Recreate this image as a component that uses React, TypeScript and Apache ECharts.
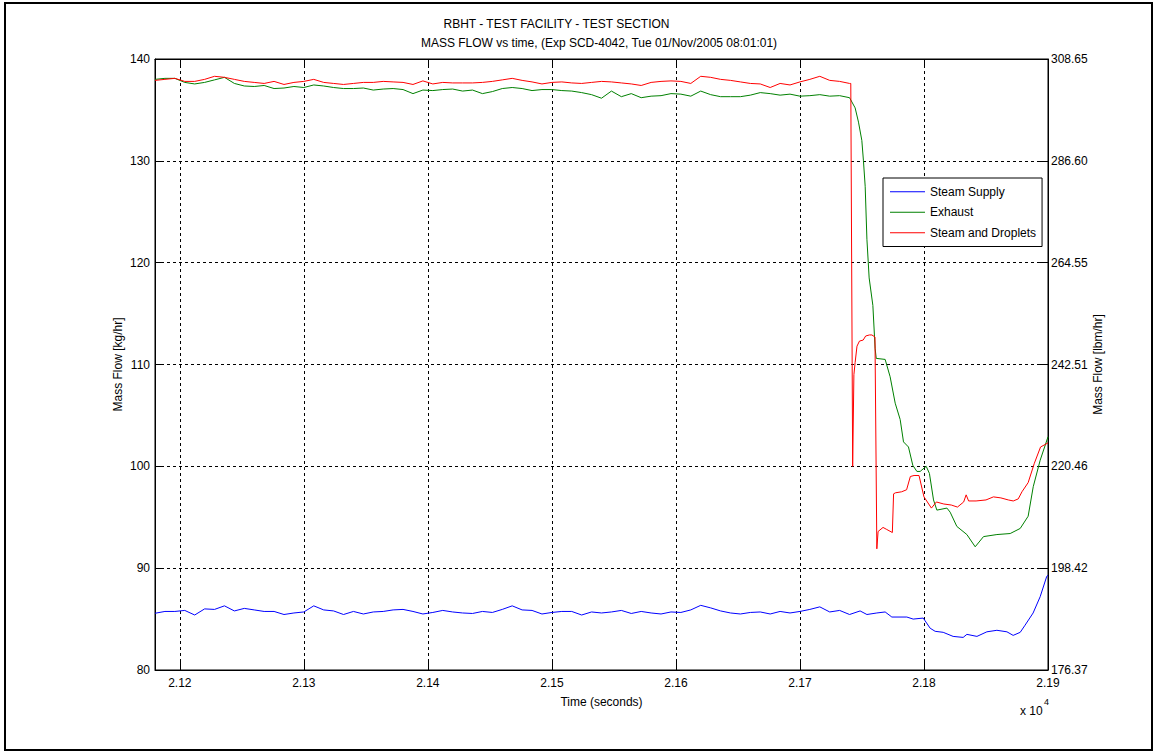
import React, { useEffect, useRef } from "react";
import * as echarts from "echarts";

const FONT = "'Liberation Sans', Arial, sans-serif";
const FONT_SIZE = 12;
const KG_TO_LBM = 2.20462;

const TITLE_LINE_1 = "RBHT - TEST FACILITY - TEST SECTION";
const TITLE_LINE_2 = "MASS FLOW vs time, (Exp SCD-4042, Tue 01/Nov/2005 08:01:01)";
const SERIES_NAMES = ["Steam Supply", "Exhaust", "Steam and Droplets"];
const SERIES_COLORS = ["#0000ff", "#008000", "#ff0000"];

// steady-state part of the record, seconds
const baseTime = [
  21180, 21188, 21196, 21204, 21212, 21220, 21228, 21236, 21244, 21252,
  21260, 21268, 21276, 21284, 21292, 21300, 21308, 21316, 21324, 21332,
  21340, 21348, 21356, 21364, 21372, 21380, 21388, 21396, 21404, 21412,
  21420, 21428, 21436, 21444, 21452, 21460, 21468, 21476, 21484, 21492,
  21500, 21508, 21516, 21524, 21532, 21540, 21548, 21556, 21564, 21572,
  21580, 21588, 21596, 21604, 21612, 21620, 21628, 21636, 21644, 21652,
  21660, 21668, 21676, 21684, 21692, 21700, 21708, 21716, 21724, 21732,
  21740,
];

// kg/hr
const supplyBase = [
  85.57, 85.75, 85.75, 85.85, 85.4, 86.0, 85.95, 86.3, 85.8, 86.05,
  85.9, 85.75, 85.75, 85.45, 85.6, 85.7, 86.3, 85.9, 85.8, 85.45,
  85.75, 85.5, 85.7, 85.75, 85.9, 85.95, 85.75, 85.5, 85.65, 85.85,
  85.7, 85.6, 85.55, 85.75, 85.65, 85.95, 86.3, 85.9, 85.85, 85.5,
  85.65, 85.75, 85.75, 85.4, 85.7, 85.6, 85.7, 85.85, 85.55, 85.75,
  85.6, 85.5, 85.7, 85.65, 85.9, 86.35, 86.1, 85.8, 85.6, 85.5,
  85.65, 85.7, 85.5, 85.75, 85.6, 85.75, 85.95, 86.2, 85.7, 85.85,
  85.45,
];

const exhaustBase = [
  138.0, 138.1, 138.1, 137.7, 137.55, 137.7, 137.95, 138.2, 137.6, 137.35,
  137.3, 137.4, 137.1, 137.15, 137.3, 137.2, 137.45, 137.35, 137.2, 137.1,
  137.1, 137.15, 136.95, 137.05, 137.1, 137.0, 136.6, 136.95, 136.9, 137.0,
  137.05, 136.85, 136.95, 136.6, 136.8, 137.1, 137.2, 137.1, 136.9, 137.0,
  137.0, 136.9, 136.85, 136.7, 136.5, 136.15, 136.85, 136.3, 136.6, 136.2,
  136.35, 136.4, 136.6, 136.55, 136.35, 136.85, 136.5, 136.3, 136.3, 136.3,
  136.45, 136.7, 136.6, 136.45, 136.55, 136.35, 136.4, 136.5, 136.35, 136.4,
  136.2,
];

const dropletsBase = [
  137.9, 138.0, 138.1, 137.8, 137.8, 138.0, 138.3, 138.2, 138.0, 137.8,
  137.7, 137.6, 137.8, 137.5, 137.7, 137.8, 138.0, 137.7, 137.6, 137.5,
  137.6, 137.7, 137.7, 137.8, 137.75, 137.7, 137.5, 137.85, 137.55, 137.7,
  137.65, 137.65, 137.65, 137.7, 137.8, 137.95, 138.1, 137.9, 137.75, 137.55,
  137.7, 137.75, 137.65, 137.6, 137.7, 137.8, 137.75, 137.65, 137.55, 137.4,
  137.7, 137.8, 137.85, 137.8, 137.6, 138.3, 138.2, 138.0, 137.9, 137.75,
  137.6, 137.55, 137.2, 137.6, 137.45, 137.75, 138.0, 138.3, 137.9, 137.8,
  137.6,
];

// transient after the steady state
const supplyTailTime = [
  21748.5, 21754, 21762, 21768.7, 21774.1, 21786.2, 21791.3, 21799.4, 21805, 21809,
  21815.5, 21823.5, 21831.6, 21834.6, 21842.7, 21850.7, 21858.8, 21866.9, 21871.9, 21877.6,
  21881.5, 21888, 21893.7, 21899, 21900,
];
const supplyTail = [
  85.8, 85.45, 85.6, 85.7, 85.2, 85.2, 85.0, 85.1, 84.1, 83.8,
  83.7, 83.3, 83.2, 83.5, 83.3, 83.75, 83.9, 83.75, 83.4, 83.7,
  84.4, 85.6, 87.2, 89.2, 89.3,
];

const exhaustTailTime = [
  21744.5, 21747.2, 21749.9, 21751.2, 21752.6, 21754, 21755.8, 21758.8, 21760.6, 21761.5,
  21768.7, 21772.7, 21776.8, 21780.8, 21783.5, 21787.5, 21791, 21794.3, 21796.9, 21801.8,
  21804.4, 21807.7, 21810.4, 21818.5, 21821.1, 21826.5, 21834.6, 21841.3, 21848, 21858.8,
  21869.5, 21877.6, 21884, 21888.1, 21893.7, 21900,
];
const exhaustTail = [
  135.2, 133.8, 132.0, 130.0, 127.5, 122.3, 118.5, 115.8, 111.6, 110.6,
  110.5, 108.8, 106.2, 104.6, 102.4, 101.9, 100.1, 99.5, 99.5, 100.0,
  99.3, 96.7, 95.7, 95.9, 95.5, 94.1, 93.3, 92.1, 93.1, 93.3,
  93.4, 93.9, 95.1, 98.0, 100.6, 102.9,
];

const dropletsTailTime = [
  21741, 21742.5, 21743.5, 21744.5, 21746, 21748, 21751, 21753, 21756, 21758,
  21760.5, 21762, 21763, 21767, 21770, 21774.5, 21775.5, 21777, 21782, 21786,
  21789, 21792, 21796, 21800, 21806, 21810, 21816, 21822, 21827, 21832,
  21834, 21836, 21842, 21850, 21856, 21862, 21868, 21872, 21876, 21879,
  21884, 21889, 21894, 21900,
];
const dropletsTail = [
  137.6, 100.0, 109.0, 110.2, 111.8, 112.3, 112.4, 112.8, 112.9, 112.9,
  112.7, 91.9, 93.6, 94.0, 93.8, 93.5, 97.3, 97.4, 97.5, 97.7,
  99.0, 99.1, 99.1, 97.0, 95.9, 96.5, 96.3, 96.2, 96.0, 96.5,
  97.2, 96.6, 96.6, 96.7, 97.0, 96.9, 96.7, 96.6, 96.8, 97.5,
  98.4, 100.3, 101.9, 102.3,
];

const pairs = (t: number[], v: number[]) => t.map((x, i) => [x, v[i]]);

const seriesData = [
  pairs(baseTime, supplyBase).concat(pairs(supplyTailTime, supplyTail)),
  pairs(baseTime, exhaustBase).concat(pairs(exhaustTailTime, exhaustTail)),
  pairs(baseTime, dropletsBase).concat(pairs(dropletsTailTime, dropletsTail)),
];

const labelStyle = { fontFamily: FONT, fontSize: FONT_SIZE, color: "#000" };

export default function App() {
  const ref = useRef<HTMLDivElement>(null);

  useEffect(() => {
    if (!ref.current) return;
    const chart = echarts.init(ref.current, null, { renderer: "svg" });

    const xCommon = {
      type: "value" as const,
      min: 21180,
      max: 21900,
      splitNumber: 7,
      minInterval: 100,
      maxInterval: 100,
    };
    const boxLine = { show: true, onZero: false, lineStyle: { color: "#000", width: 1 } };
    const inTick = { show: true, inside: true, length: 9, lineStyle: { color: "#000" } };
    const gridLine = { show: true, lineStyle: { color: "#000", type: [3, 3], width: 1 } };

    chart.setOption({
      animation: false,
      backgroundColor: "#fff",
      textStyle: { fontFamily: FONT },
      grid: {
        left: 155,
        top: 59,
        right: 108,
        bottom: 82,
        show: true,
        borderColor: "#000",
        borderWidth: 1,
        backgroundColor: "transparent",
      },
      xAxis: [
        {
          ...xCommon,
          position: "bottom",
          axisLine: boxLine,
          axisTick: inTick,
          axisLabel: {
            ...labelStyle,
            margin: 7,
            formatter: (v: number) => (v % 100 === 0 ? (v / 10000).toFixed(2) : ""),
          },
          splitLine: gridLine,
          name: "Time (seconds)",
          nameLocation: "middle",
          nameGap: 26,
          nameMoveOverlap: false,
          nameTextStyle: labelStyle,
        },
        {
          ...xCommon,
          position: "top",
          axisLine: boxLine,
          axisTick: inTick,
          axisLabel: { show: false },
          splitLine: { show: false },
        },
      ],
      yAxis: [
        {
          type: "value",
          position: "left",
          min: 80,
          max: 140,
          interval: 10,
          axisLine: boxLine,
          axisTick: inTick,
          axisLabel: { ...labelStyle, margin: 5 },
          splitLine: gridLine,
          name: "Mass Flow [kg/hr]",
          nameLocation: "middle",
          nameRotate: 90,
          nameGap: 31,
          nameMoveOverlap: false,
          nameTextStyle: labelStyle,
        },
        {
          type: "value",
          position: "right",
          min: 80,
          max: 140,
          interval: 10,
          axisLine: boxLine,
          axisTick: inTick,
          axisLabel: {
            ...labelStyle,
            margin: 3,
            formatter: (v: number) => (v * KG_TO_LBM).toFixed(2),
          },
          splitLine: { show: false },
          name: "Mass Flow [lbm/hr]",
          nameLocation: "middle",
          nameRotate: 90,
          nameGap: 44,
          nameMoveOverlap: false,
          nameTextStyle: labelStyle,
        },
      ],
      legend: {
        orient: "vertical",
        left: 883,
        top: 178,
        backgroundColor: "#fff",
        borderColor: "#000",
        borderWidth: 1,
        borderRadius: 0,
        padding: [6, 6, 6, 7],
        itemGap: 5,
        itemWidth: 35,
        itemHeight: 1,
        icon: "rect",
        textStyle: { ...labelStyle, lineHeight: 15.5 },
        data: SERIES_NAMES,
      },
      series: SERIES_NAMES.map((name, i) => ({
        name,
        type: "line",
        xAxisIndex: 0,
        yAxisIndex: 0,
        data: seriesData[i],
        showSymbol: false,
        symbol: "none",
        color: SERIES_COLORS[i],
        lineStyle: { color: SERIES_COLORS[i], width: 1 },
        emphasis: { disabled: true },
      })),
      graphic: [
        {
          type: "rect",
          shape: { x: 5, y: 3, width: 1147, height: 747 },
          style: { fill: "none", stroke: "#000", lineWidth: 2 },
          silent: true,
        },
        {
          type: "text",
          x: 556.5,
          y: 23.5,
          style: {
            text: TITLE_LINE_1,
            fontFamily: FONT,
            fontSize: FONT_SIZE,
            fill: "#000",
            align: "center",
            verticalAlign: "middle",
          },
        },
        {
          type: "text",
          x: 599,
          y: 43,
          style: {
            text: TITLE_LINE_2,
            fontFamily: FONT,
            fontSize: FONT_SIZE,
            fill: "#000",
            align: "center",
            verticalAlign: "middle",
          },
        },
        {
          type: "text",
          x: 1020,
          y: 711,
          style: {
            text: "x 10",
            fontFamily: FONT,
            fontSize: FONT_SIZE,
            fill: "#000",
            align: "left",
            verticalAlign: "middle",
          },
        },
        {
          type: "text",
          x: 1044,
          y: 702,
          style: {
            text: "4",
            fontFamily: FONT,
            fontSize: 9,
            fill: "#000",
            align: "left",
            verticalAlign: "middle",
          },
        },
      ],
    });

    return () => chart.dispose();
  }, []);

  return (
    <div
      ref={ref}
      style={{ position: "fixed", left: 0, top: 0, width: 1156, height: 752, background: "#fff" }}
    />
  );
}
